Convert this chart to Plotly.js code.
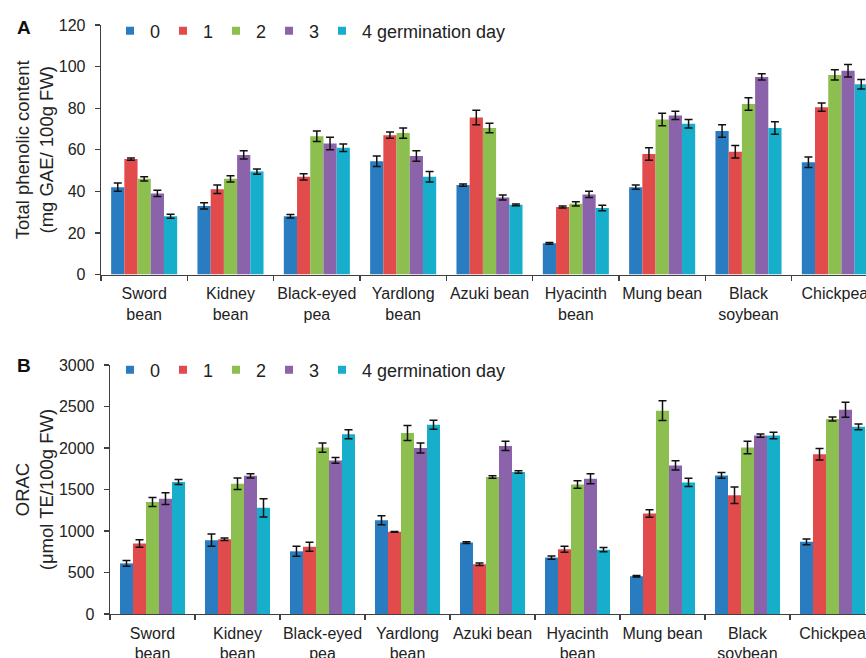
<!DOCTYPE html>
<html>
<head>
<meta charset="utf-8">
<script src="https://cdn.plot.ly/plotly-3.0.1.min.js"></script>
<style>
  html, body { margin: 0; padding: 0; overflow: hidden; background: #fff; }
  #chart { width: 880px; height: 658px; }
</style>
</head>
<body>
<div id="chart"></div>
<script>
// Categories (bean types)
const categories = ['Sword<br>bean', 'Kidney<br>bean', 'Black-eyed<br>pea', 'Yardlong<br>bean', 'Azuki bean',
                    'Hyacinth<br>bean', 'Mung bean', 'Black<br>soybean', 'Chickpea'];
const seriesNames = ['0', '1', '2', '3', '4 germination day'];
const seriesColors = ['#2a7cc0', '#e14b4b', '#8cbf4f', '#8a63aa', '#17aecc'];

// Panel A: total phenolic content (mg GAE/100g FW), germination day 0..4
const phenolicDay0 = [42, 33, 28, 54.5, 43, 15, 42, 69, 54];
const phenolicDay1 = [55.5, 41, 47, 67, 75.5, 32.5, 58, 59, 80.5];
const phenolicDay2 = [46, 46, 66.5, 68, 70.5, 34, 74.5, 82, 96];
const phenolicDay3 = [39, 57.5, 63, 57, 37, 38.5, 76.5, 95, 98];
const phenolicDay4 = [28, 49.5, 61, 47, 33.5, 32, 72.5, 70.5, 91.5];
const phenolicErr0 = [2, 1.5, 0.8, 2.5, 0.5, 0.4, 1, 3, 2.5];
const phenolicErr1 = [0.5, 2, 1.5, 1.5, 3.5, 0.5, 3, 3, 2];
const phenolicErr2 = [1, 1.5, 2.5, 2.5, 2.3, 1, 3, 3, 2.5];
const phenolicErr3 = [1.5, 2, 3, 2.5, 1.2, 1.5, 2, 1.5, 3];
const phenolicErr4 = [1, 1.3, 1.8, 2.5, 0.4, 1.3, 2, 3, 2.3];

// Panel B: ORAC (umol TE/100g FW)
const oracDay0 = [610, 890, 755, 1130, 860, 680, 455, 1670, 870];
const oracDay1 = [850, 900, 810, 990, 600, 780, 1210, 1430, 1925];
const oracDay2 = [1350, 1570, 2005, 2180, 1650, 1560, 2450, 2005, 2350];
const oracDay3 = [1390, 1665, 1850, 2000, 2025, 1630, 1790, 2150, 2460];
const oracDay4 = [1590, 1280, 2165, 2280, 1710, 775, 1585, 2150, 2255];
const oracErr0 = [35, 75, 60, 55, 10, 20, 8, 35, 35];
const oracErr1 = [45, 15, 55, 5, 15, 35, 45, 100, 70];
const oracErr2 = [55, 70, 55, 90, 15, 45, 120, 75, 25];
const oracErr3 = [70, 25, 35, 60, 55, 60, 55, 20, 90];
const oracErr4 = [30, 110, 55, 55, 15, 25, 50, 40, 35];

const phenolicTicks = [0, 20, 40, 60, 80, 100, 120];
const oracTicks = [0, 500, 1000, 1500, 2000, 2500, 3000];

const phenolicSeries = [phenolicDay0, phenolicDay1, phenolicDay2, phenolicDay3, phenolicDay4];
const phenolicErrors = [phenolicErr0, phenolicErr1, phenolicErr2, phenolicErr3, phenolicErr4];
const oracSeries = [oracDay0, oracDay1, oracDay2, oracDay3, oracDay4];
const oracErrors = [oracErr0, oracErr1, oracErr2, oracErr3, oracErr4];

const FONT = 'Liberation Sans, Arial, sans-serif';
const TXT = '#222222';
const AX = '#404040';

const traces = [];
function addPanel(series, errors, xa, ya, legendId) {
  series.forEach((vals, i) => {
    traces.push({
      type: 'bar', x: categories, y: vals, xaxis: xa, yaxis: ya,
      name: seriesNames[i], showlegend: false,
      marker: { color: seriesColors[i], line: { width: 0 } },
      error_y: { type: 'data', array: errors[i], visible: true, color: '#111', thickness: 1.5, width: 4 },
      hoverinfo: 'x+y+name'
    });
  });
  // legend entries (small square keys)
  series.forEach((vals, i) => {
    const t = {
      type: 'scatter', mode: 'markers', x: [null], y: [null], xaxis: xa, yaxis: ya,
      name: seriesNames[i], legend: legendId, showlegend: true,
      marker: { symbol: 'square', size: 8, color: seriesColors[i] },
      hoverinfo: 'skip'
    };
    if (i === series.length - 1) t.legendwidth = 170;
    traces.push(t);
  });
}
addPanel(phenolicSeries, phenolicErrors, 'x', 'y', 'legend');
addPanel(oracSeries, oracErrors, 'x2', 'y2', 'legend2');

const W = 880, H = 658;
const px = v => v / W;
const py = v => (H - v) / H;

function xAxis(domain, anchor) {
  return {
    domain: domain, anchor: anchor, type: 'category', categoryorder: 'array', categoryarray: categories,
    showline: true, linecolor: AX, linewidth: 1.3, ticks: 'outside', tickson: 'boundaries',
    ticklen: 5, tickcolor: AX, tickwidth: 1.3, showgrid: false, zeroline: false, tickangle: 0,
    ticklabelstandoff: 4,
    tickfont: { family: FONT, size: 16, color: TXT }, fixedrange: true
  };
}
function yAxis(domain, anchor, range, ticks, title) {
  return {
    domain: domain, anchor: anchor, range: range, tickvals: ticks,
    showline: true, linecolor: AX, linewidth: 1.3, ticks: 'outside', ticklen: 5,
    tickcolor: AX, tickwidth: 1.3, showgrid: false, zeroline: false, ticklabelstandoff: 6,
    tickfont: { family: FONT, size: 16, color: TXT },
    title: { text: title, font: { family: FONT, size: 18.5, color: TXT }, standoff: 0 },
    fixedrange: true
  };
}

const legendBase = {
  orientation: 'h', xanchor: 'left', yanchor: 'middle', bgcolor: 'rgba(0,0,0,0)',
  font: { family: FONT, size: 18, color: TXT }, entrywidth: 8, entrywidthmode: 'pixels',
  itemclick: false, itemdoubleclick: false, tracegroupgap: 0
};

const layout = {
  width: W, height: H,
  margin: { l: 0, r: 0, t: 0, b: 0 },
  paper_bgcolor: '#fff', plot_bgcolor: '#fff',
  barmode: 'group', bargap: 0.235, bargroupgap: 0,
  font: { family: FONT, size: 16, color: TXT },
  xaxis: xAxis([px(101), px(878)], 'y'),
  yaxis: yAxis([py(274.5), py(25)], 'x', [0, 120], phenolicTicks, 'Total phenolic content<br>(mg GAE/ 100g FW)'),
  xaxis2: xAxis([px(110), px(875)], 'y2'),
  yaxis2: yAxis([py(614), py(365)], 'x2', [0, 3000], oracTicks, 'ORAC<br>(μmol TE/100g FW)'),
  legend: Object.assign({}, legendBase, { x: px(110), y: py(31) }),
  legend2: Object.assign({}, legendBase, { x: px(110), y: py(370) }),
  annotations: [
    { text: '<b>A</b>', xref: 'paper', yref: 'paper', x: px(15), y: py(15), xanchor: 'left', yanchor: 'top',
      showarrow: false, font: { family: FONT, size: 19, color: '#111' } },
    { text: '<b>B</b>', xref: 'paper', yref: 'paper', x: px(15), y: py(353), xanchor: 'left', yanchor: 'top',
      showarrow: false, font: { family: FONT, size: 19, color: '#111' } }
  ],
  showlegend: true
};

Plotly.newPlot('chart', traces, layout, { displayModeBar: false, staticPlot: true });
</script>
</body>
</html>
